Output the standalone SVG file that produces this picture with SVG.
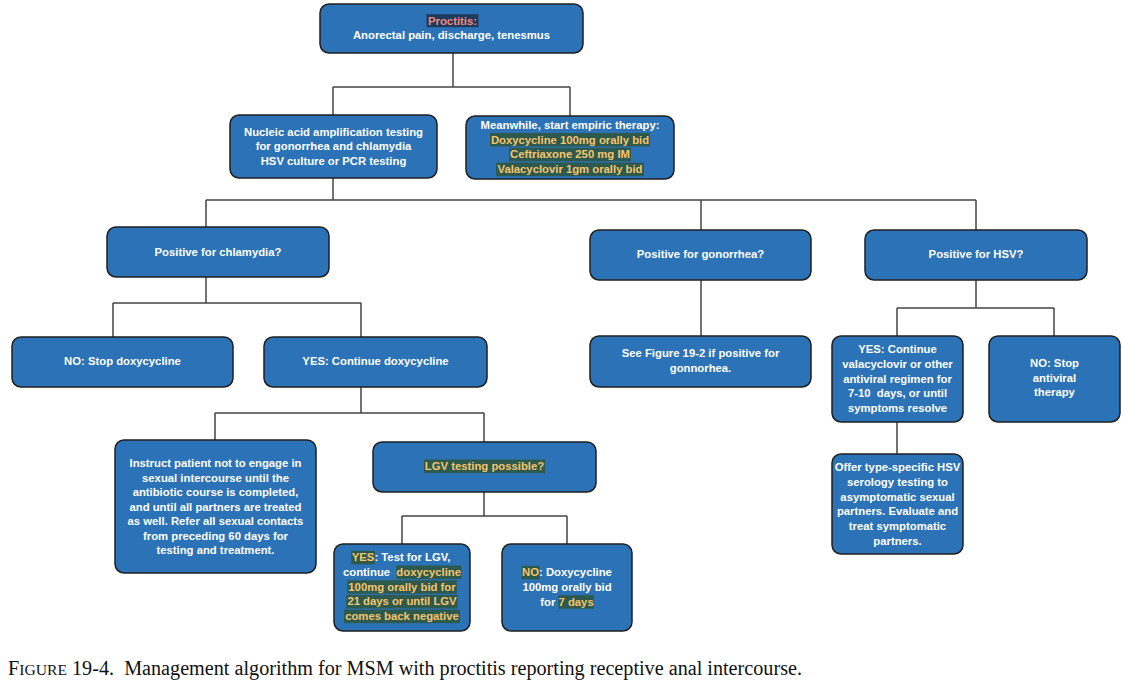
<svg xmlns="http://www.w3.org/2000/svg" width="1143" height="688" viewBox="0 0 1143 688">
<style>
.bx{fill:#2B72B6;stroke:#1f1f1f;stroke-width:1.5}
.t{font-family:"Liberation Sans",Arial,Helvetica,sans-serif;font-weight:bold;font-size:11.3px;fill:#ffffff;text-anchor:middle}
.s{text-anchor:start}
.y{fill:#F5C46E}
.p{fill:#F28A7C}
.hl{fill:#2D5A4C}
.hp{fill:#1E3A5C}
.cn{fill:none;stroke:#444;stroke-width:1.5}
.cap{font-family:"Liberation Serif","Times New Roman",serif;font-size:20px;fill:#111}
</style>
<rect width="1143" height="688" fill="#fff"/>
<g id="connectors">
<path class="cn" d="M453 53V87M333 87H570M333 87V115M570 87V116M333 178V200M206 200H976M206 200V227M701 200V230M976 200V230M206 277V303M113 303H361M113 303V337M361 303V337M361 387V413M215 413H484M215 413V440M484 413V442M484 492V516M402 516H567M402 516V544M567 516V544M701 280V336M976 280V308M897 308H1054M897 308V336M1054 308V336M897 422V454"/>
</g>
<g id="n-proctitis">
<rect class="bx" x="320" y="4" width="263" height="49" rx="9"/>
<rect class="hp" x="426.5" y="14.2" width="52" height="13"/>
<text class="t" x="452.5" y="24.7"><tspan class="p">Proctitis:</tspan></text>
<text class="t" x="451.5" y="39">Anorectal pain, discharge, tenesmus</text>
</g>
<g id="n-naat">
<rect class="bx" x="230" y="115" width="207" height="63" rx="9"/>
<text class="t" x="333.5" y="135.5">Nucleic acid amplification testing</text>
<text class="t" x="333.5" y="150">for gonorrhea and chlamydia</text>
<text class="t" x="333.5" y="165">HSV culture or PCR testing</text>
</g>
<g id="n-therapy">
<rect class="bx" x="466" y="116" width="208" height="63" rx="9"/>
<text class="t" x="570" y="129">Meanwhile, start empiric therapy:</text>
<rect class="hl" x="490" y="133" width="160" height="13.5"/>
<rect class="hl" x="509" y="147.8" width="122" height="13.5"/>
<rect class="hl" x="496.2" y="162.6" width="147.6" height="13.5"/>
<text class="t y" x="570" y="143.5">Doxycycline 100mg orally bid</text>
<text class="t y" x="570" y="158.3">Ceftriaxone 250 mg IM</text>
<text class="t y" x="570" y="173.1">Valacyclovir 1gm orally bid</text>
</g>
<g id="n-chlamydia">
<rect class="bx" x="107" y="227" width="222" height="50" rx="9"/>
<text class="t" x="218" y="255.7">Positive for chlamydia?</text>
</g>
<g id="n-gonorrhea">
<rect class="bx" x="590" y="230" width="221" height="50" rx="9"/>
<text class="t" x="700.5" y="258.3">Positive for gonorrhea?</text>
</g>
<g id="n-hsv">
<rect class="bx" x="865" y="230" width="222" height="50" rx="9"/>
<text class="t" x="976" y="258.3">Positive for HSV?</text>
</g>
<g id="n-no-doxy">
<rect class="bx" x="12" y="337" width="221" height="50" rx="9"/>
<text class="t" x="122.5" y="365">NO: Stop doxycycline</text>
</g>
<g id="n-yes-doxy">
<rect class="bx" x="264" y="337" width="223" height="50" rx="9"/>
<text class="t" x="375.5" y="365">YES: Continue doxycycline</text>
</g>
<g id="n-see-fig">
<rect class="bx" x="590" y="336" width="221" height="51" rx="9"/>
<text class="t" x="700.5" y="357.3">See Figure 19-2 if positive for</text>
<text class="t" x="700.5" y="372.3">gonnorhea.</text>
</g>
<g id="n-hsv-yes">
<rect class="bx" x="832" y="336" width="131" height="86" rx="9"/>
<text class="t" x="897.5" y="353.3">YES: Continue</text>
<text class="t" x="897.5" y="368">valacyclovir or other</text>
<text class="t" x="897.5" y="382.5">antiviral regimen for</text>
<text class="t" x="897.5" y="397.3" xml:space="preserve">7-10  days, or until</text>
<text class="t" x="897.5" y="412.2">symptoms resolve</text>
</g>
<g id="n-hsv-no">
<rect class="bx" x="989" y="336" width="131" height="86" rx="9"/>
<text class="t" x="1054.5" y="367.3">NO: Stop</text>
<text class="t" x="1054.5" y="381.8">antiviral</text>
<text class="t" x="1054.5" y="396.3">therapy</text>
</g>
<g id="n-offer">
<rect class="bx" x="832" y="454" width="131" height="100" rx="9"/>
<text class="t" x="897.5" y="471.3">Offer type-specific HSV</text>
<text class="t" x="897.5" y="486">serology testing to</text>
<text class="t" x="897.5" y="500.7">asymptomatic sexual</text>
<text class="t" x="897.5" y="515.4">partners. Evaluate and</text>
<text class="t" x="897.5" y="530.1">treat symptomatic</text>
<text class="t" x="897.5" y="544.8">partners.</text>
</g>
<g id="n-instruct">
<rect class="bx" x="115" y="440" width="201" height="133" rx="9"/>
<text class="t" x="215.5" y="467.3">Instruct patient not to engage in</text>
<text class="t" x="215.5" y="481.8">sexual intercourse until the</text>
<text class="t" x="215.5" y="496.3">antibiotic course is completed,</text>
<text class="t" x="215.5" y="510.8">and until all partners are treated</text>
<text class="t" x="215.5" y="525.3">as well. Refer all sexual contacts</text>
<text class="t" x="215.5" y="539.8">from preceding 60 days for</text>
<text class="t" x="215.5" y="554.3">testing and treatment.</text>
</g>
<g id="n-lgv">
<rect class="bx" x="373" y="442" width="223" height="50" rx="9"/>
<rect class="hl" x="424" y="459.5" width="121" height="13.5"/>
<text class="t y" x="484.5" y="470">LGV testing possible?</text>
</g>
<g id="n-lgv-yes">
<rect class="bx" x="334" y="544" width="136" height="87" rx="9"/>
<rect class="hl" x="351.3" y="550.8" width="23.6" height="13.5"/>
<rect class="hl" x="396.2" y="565.5" width="65.2" height="13.5"/>
<rect class="hl" x="347.3" y="580.2" width="109.4" height="13.5"/>
<rect class="hl" x="346.3" y="594.9" width="111.4" height="13.5"/>
<rect class="hl" x="344.1" y="609.6" width="115.8" height="13.5"/>
<text class="t s" x="351.8" y="561.3"><tspan class="y">YES</tspan>: Test for LGV,</text>
<text class="t s" x="343" y="576">continue&#160; <tspan class="y">doxycycline</tspan></text>
<text class="t y" x="402" y="590.7">100mg orally bid for</text>
<text class="t y" x="402" y="605.4">21 days or until LGV</text>
<text class="t y" x="402" y="620.1">comes back negative</text>
</g>
<g id="n-lgv-no">
<rect class="bx" x="502" y="544" width="130" height="87" rx="9"/>
<rect class="hl" x="521.6" y="565.8" width="18" height="13.5"/>
<rect class="hl" x="558.3" y="595.2" width="35.6" height="13.5"/>
<text class="t s" x="522.1" y="576.3"><tspan class="y">NO</tspan>: Doxycycline</text>
<text class="t" x="567" y="591">100mg orally bid</text>
<text class="t s" x="540.3" y="605.7">for <tspan class="y">7 days</tspan></text>
</g>
<g id="caption">
<text class="cap" x="8" y="675" textLength="794" lengthAdjust="spacingAndGlyphs"><tspan>F</tspan><tspan font-size="15.5px">IGURE</tspan> 19-4.&#160; Management algorithm for MSM with proctitis reporting receptive anal intercourse.</text>
</g>
</svg>
